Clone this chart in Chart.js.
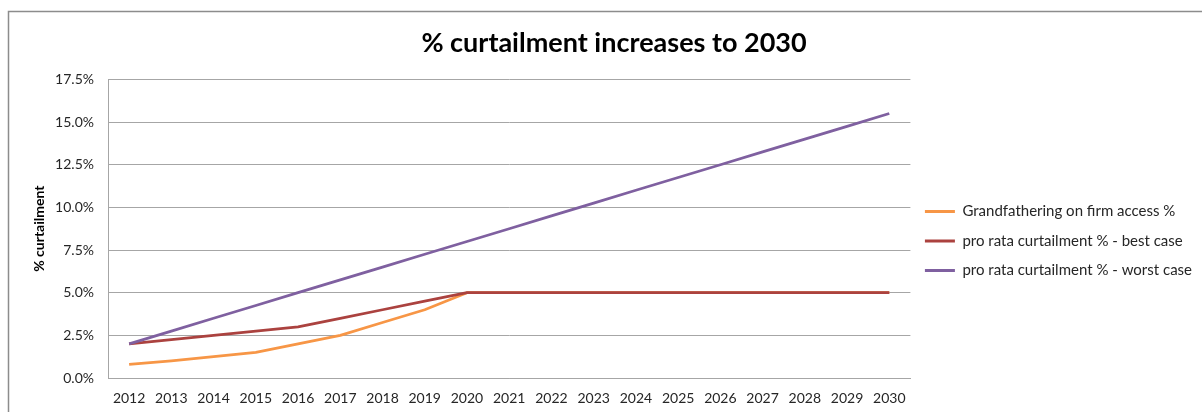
<!DOCTYPE html>
<html>
<head>
<meta charset="utf-8">
<script src="https://cdn.jsdelivr.net/npm/chart.js@4"></script>
<style>
html,body{margin:0;padding:0;background:#fff;}
#wrap{width:1202px;height:412px;position:relative;}
</style>
</head>
<body>
<div id="wrap"><canvas id="c" width="1202" height="412"></canvas></div>
<script>
const years = ['2012','2013','2014','2015','2016','2017','2018','2019','2020','2021','2022','2023','2024','2025','2026','2027','2028','2029','2030'];
const grandfathering = [0.8, 1.0, 1.25, 1.5, 2.0, 2.5, 3.25, 4.0, 5.0, 5.0, 5.0, 5.0, 5.0, 5.0, 5.0, 5.0, 5.0, 5.0, 5.0];
const bestCase = [2.0, 2.25, 2.5, 2.75, 3.0, 3.5, 4.0, 4.5, 5.0, 5.0, 5.0, 5.0, 5.0, 5.0, 5.0, 5.0, 5.0, 5.0, 5.0];
const worstCase = [2.0, 2.75, 3.5, 4.25, 5.0, 5.75, 6.5, 7.25, 8.0, 8.75, 9.5, 10.25, 11.0, 11.75, 12.5, 13.25, 14.0, 14.75, 15.5];
const seriesNames = ['Grandfathering on firm access %', 'pro rata curtailment % - best case', 'pro rata curtailment % - worst case'];
const yTicks = [0, 2.5, 5.0, 7.5, 10.0, 12.5, 15.0, 17.5];

const FONT = 'Lato, "Open Sans", sans-serif';
const TXT = '#262626';
const GRID = '#a6a6a6';

const framePlugin = {
  id: 'frame',
  afterDraw(chart) {
    const ctx = chart.ctx;
    ctx.save();
    ctx.strokeStyle = '#8c8c8c';
    ctx.lineWidth = 1.5;
    ctx.beginPath();
    ctx.moveTo(8.5, chart.height);
    ctx.lineTo(8.5, 11.5);
    ctx.lineTo(chart.width, 11.5);
    ctx.stroke();
    ctx.restore();
  }
};

new Chart(document.getElementById('c'), {
  type: 'line',
  data: {
    labels: years,
    datasets: [
      { label: seriesNames[0], data: grandfathering, borderColor: '#f79646', backgroundColor: '#f79646', order: 2 },
      { label: seriesNames[1], data: bestCase, borderColor: '#ab423f', backgroundColor: '#ab423f', order: 1 },
      { label: seriesNames[2], data: worstCase, borderColor: '#7f60a0', backgroundColor: '#7f60a0', order: 0 }
    ]
  },
  options: {
    responsive: false,
    animation: false,
    devicePixelRatio: 1,
    elements: {
      point: { radius: 0, hoverRadius: 0 },
      line: { borderWidth: 2.75, tension: 0, borderCapStyle: 'butt', borderJoinStyle: 'round' }
    },
    layout: { padding: { left: 26, right: 0, top: 0, bottom: 0 } },
    plugins: {
      title: {
        display: true,
        text: '% curtailment increases to 2030',
        color: '#000',
        font: { family: FONT, size: 27, weight: 'bold' },
        padding: { top: 27, bottom: 20 }
      },
      legend: {
        position: 'right',
        align: 'center',
        title: { display: true, text: ' ', font: { size: 10 }, padding: { top: 29, bottom: 29 } },
        labels: {
          color: TXT,
          font: { family: FONT, size: 15 },
          boxWidth: 30,
          boxHeight: 3,
          padding: 14.5,
          sort: (a, b) => a.datasetIndex - b.datasetIndex,
          generateLabels(chart) {
            const items = Chart.defaults.plugins.legend.labels.generateLabels(chart);
            items.forEach(it => { it.lineWidth = 0; });
            return items;
          }
        }
      },
      tooltip: { enabled: false }
    },
    scales: {
      x: {
        offset: true,
        grid: { display: false, drawTicks: false },
        border: { display: true, color: GRID, width: 1 },
        ticks: { color: TXT, font: { family: FONT, size: 14 }, padding: 12, maxRotation: 0, autoSkip: false },
        afterFit(s) { s.height = 34; }
      },
      y: {
        min: 0,
        max: 17.5,
        afterBuildTicks(s) { s.ticks = yTicks.map(v => ({ value: v })); },
        grid: { color: GRID, drawTicks: false, lineWidth: 1 },
        border: { display: true, color: GRID, width: 1 },
        ticks: { color: TXT, font: { family: FONT, size: 14 }, padding: 14, callback: v => v.toFixed(1) + '%' },
        title: { display: true, text: '% curtailment', color: '#000', font: { family: FONT, size: 14, weight: 'bold' }, padding: { top: 5, bottom: 0 } },
        afterFit(s) { s.width = 82; }
      }
    }
  },
  plugins: [framePlugin]
});
</script>
</body>
</html>
